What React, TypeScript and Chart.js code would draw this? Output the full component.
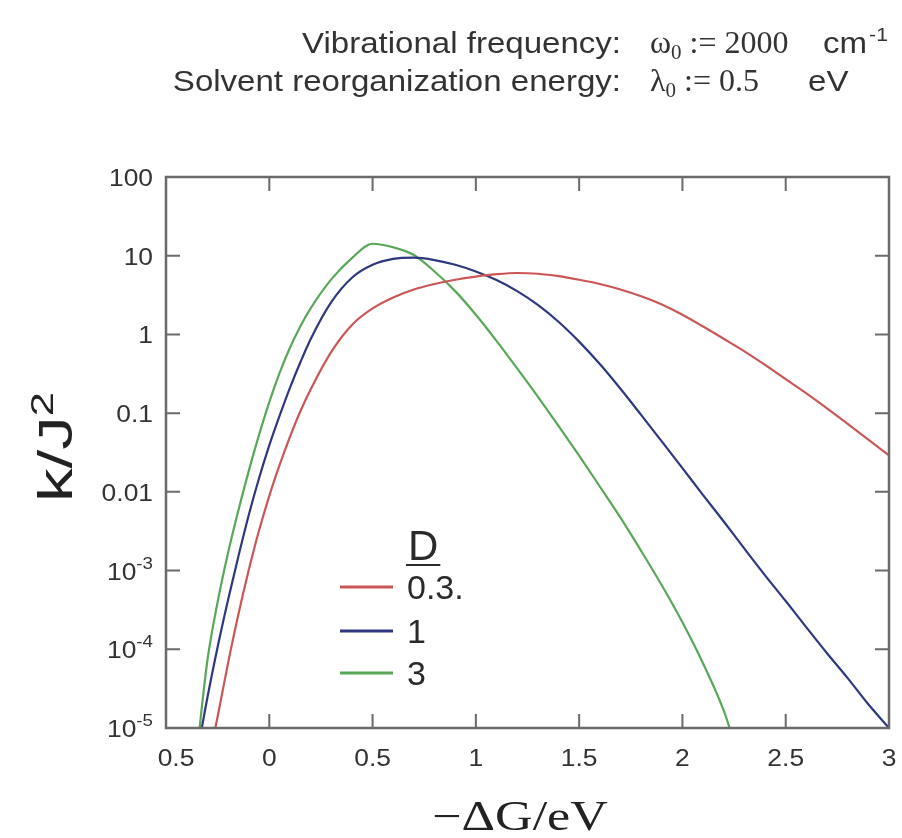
import React, { useEffect, useRef } from "react";
import { Chart, registerables } from "chart.js";

Chart.register(...registerables);

// ---- data ----
const xValues = [-0.35, -0.3, -0.25, -0.2, -0.15, -0.1, -0.05, 0, 0.05, 0.1, 0.15, 0.2, 0.3, 0.4, 0.5, 0.6, 0.7, 0.8, 0.9, 1.0, 1.1, 1.2, 1.3, 1.4, 1.5, 1.6, 1.7, 1.8, 1.9, 2.0, 2.1, 2.2, 2.3, 2.4, 2.5, 2.6, 2.7, 2.8, 2.9, 3.0];

const seriesD03 = [null, 3.2e-6, 1.4e-5, 6.6e-5, 2.75e-4, 1.0e-3, 3.2e-3, 8.9e-3, 0.022, 0.05, 0.105, 0.2, 0.6, 1.32, 2.14, 2.95, 3.72, 4.37, 4.95, 5.43, 5.82, 6.03, 5.9, 5.5, 4.95, 4.37, 3.72, 3.05, 2.4, 1.78, 1.26, 0.88, 0.61, 0.41, 0.27, 0.178, 0.115, 0.073, 0.046, 0.029];

const seriesD1 = [4.5e-6, 2.4e-5, 1.07e-4, 4.2e-4, 1.5e-3, 5.0e-3, 0.0148, 0.039, 0.093, 0.21, 0.44, 0.87, 2.57, 5.25, 7.67, 9.12, 9.44, 8.81, 7.67, 6.31, 4.9, 3.55, 2.37, 1.45, 0.81, 0.42, 0.204, 0.095, 0.0437, 0.02, 9.1e-3, 4.2e-3, 1.9e-3, 8.7e-4, 4.1e-4, 1.9e-4, 8.9e-5, 4.3e-5, 2.0e-5, 1.0e-5];

const seriesD3 = [5.0e-6, 7.1e-5, 4.0e-4, 1.66e-3, 5.75e-3, 0.0182, 0.0525, 0.138, 0.324, 0.676, 1.26, 2.14, 5.0, 9.33, 14.2, 12.8, 10.2, 6.31, 3.55, 1.78, 0.83, 0.37, 0.162, 0.069, 0.0288, 0.0117, 4.7e-3, 1.78e-3, 6.5e-4, 2.2e-4, 6.6e-5, 1.66e-5, 2.5e-6, null, null, null, null, null, null, null];

const seriesNames = ["0.3.", "1", "3"];
const seriesColors = ["rgb(204,86,86)", "rgb(46,56,126)", "rgb(88,168,88)"];

const xTickValues = [-0.5, 0, 0.5, 1, 1.5, 2, 2.5, 3];
const xTickLabels = ["0.5", "0", "0.5", "1", "1.5", "2", "2.5", "3"];
const yTickValues = [100, 10, 1, 0.1, 0.01, 1e-3, 1e-4, 1e-5];
const yTickBase = ["100", "10", "1", "0.1", "0.01", "10", "10", "10"];
const yTickExp = ["", "", "", "", "", "-3", "-4", "-5"];

const headerLabels = ["Vibrational frequency:", "Solvent reorganization energy:"];
const headerSymbols = ["ω", "λ"];
const headerValues = [" := 2000", " := 0.5"];
const headerUnits = ["cm", "eV"];
const headerUnitExp = ["-1", ""];

const xTitle = "−ΔG/eV";
const yTitle = "k/J";
const yTitleExp = "2";
const legendTitle = "D";

const SANS = '"Liberation Sans", Arial, Helvetica, sans-serif';
const SERIF = '"Liberation Serif", "Times New Roman", serif';

function drawText(ctx: CanvasRenderingContext2D, s: string, x: number, y: number, font: string, sx = 1) {
  ctx.save();
  ctx.font = font;
  ctx.textAlign = "left";
  ctx.textBaseline = "alphabetic";
  ctx.translate(x, y);
  ctx.scale(sx, 1);
  ctx.fillText(s, 0, 0);
  ctx.restore();
}
function textW(ctx: CanvasRenderingContext2D, s: string, font: string, sx = 1) {
  ctx.save();
  ctx.font = font;
  const w = ctx.measureText(s).width * sx;
  ctx.restore();
  return w;
}

const decorPlugin = {
  id: "decor",
  afterDraw(chart: any) {
    const ctx: CanvasRenderingContext2D = chart.ctx;
    const { left, right, top, bottom } = chart.chartArea;
    const xs = chart.scales.x;
    const ys = chart.scales.y;
    ctx.save();
    // frame
    ctx.strokeStyle = "#6a6a6a";
    ctx.lineWidth = 2.5;
    ctx.strokeRect(left, top, right - left, bottom - top);
    // inward ticks
    ctx.lineWidth = 2;
    const tl = 14;
    xTickValues.forEach((v) => {
      const px = xs.getPixelForValue(v);
      ctx.beginPath();
      ctx.moveTo(px, bottom);
      ctx.lineTo(px, bottom - tl);
      ctx.moveTo(px, top);
      ctx.lineTo(px, top + tl);
      ctx.stroke();
    });
    yTickValues.forEach((v) => {
      const py = ys.getPixelForValue(v);
      ctx.beginPath();
      ctx.moveTo(left, py);
      ctx.lineTo(left + tl, py);
      ctx.moveTo(right, py);
      ctx.lineTo(right - tl, py);
      ctx.stroke();
    });

    ctx.fillStyle = "#333";
    const tickFont = `24px ${SANS}`;
    const supFont = `17px ${SANS}`;
    const sx = 1.1;
    // x tick labels
    xTickValues.forEach((v, i) => {
      let px = xs.getPixelForValue(v);
      const s = xTickLabels[i];
      const w = textW(ctx, s, tickFont, sx);
      if (i === 0) px += 10;
      drawText(ctx, s, px - w / 2, bottom + 38, tickFont, sx);
    });
    // y tick labels
    const xr = left - 13;
    yTickValues.forEach((v, i) => {
      const py = ys.getPixelForValue(v);
      const base = yTickBase[i];
      const exp = yTickExp[i];
      const we = exp ? textW(ctx, exp, supFont, sx) : 0;
      const wb = textW(ctx, base, tickFont, sx);
      drawText(ctx, base, xr - we - wb, py + 9, tickFont, sx);
      if (exp) drawText(ctx, exp, xr - we, py - 2, supFont, sx);
    });

    // axis titles
    ctx.fillStyle = "#222";
    const xtFont = `42px ${SERIF}`;
    const xtsx = 1.24;
    const xtw = textW(ctx, xTitle, xtFont, xtsx);
    drawText(ctx, xTitle, 520 - xtw / 2, 830, xtFont, xtsx);

    const ytFont = `48px ${SANS}`;
    const ytSup = `31px ${SANS}`;
    const ysx = 1.4;
    const w1 = textW(ctx, yTitle, ytFont, ysx);
    const w2 = textW(ctx, yTitleExp, ytSup, ysx);
    ctx.save();
    ctx.translate(72, 447 + (w1 + w2) / 2);
    ctx.rotate(-Math.PI / 2);
    drawText(ctx, yTitle, 0, 0, ytFont, ysx);
    drawText(ctx, yTitleExp, w1, -19, ytSup, ysx);
    ctx.restore();

    // header
    ctx.fillStyle = "#333";
    const hFont = `29.5px ${SANS}`;
    const hsx = 1.12;
    const vFont = `32px ${SERIF}`;
    const subFont = `21px ${SERIF}`;
    const baselines = [53, 91];
    const unitX = [823, 808];
    headerLabels.forEach((lab, i) => {
      const b = baselines[i];
      const w = textW(ctx, lab, hFont, hsx);
      drawText(ctx, lab, 621 - w, b, hFont, hsx);
      let x0 = 650;
      drawText(ctx, headerSymbols[i], x0, b, vFont);
      x0 += textW(ctx, headerSymbols[i], vFont);
      drawText(ctx, "0", x0, b + 6, subFont);
      x0 += textW(ctx, "0", subFont);
      drawText(ctx, headerValues[i], x0, b, vFont);
      drawText(ctx, headerUnits[i], unitX[i], b, hFont, hsx);
      if (headerUnitExp[i]) {
        const uw = textW(ctx, headerUnits[i], hFont, hsx);
        drawText(ctx, headerUnitExp[i], unitX[i] + uw + 2, b - 12, `19px ${SANS}`, hsx);
      }
    });

    // legend
    ctx.fillStyle = "#2a2a2a";
    const dFont = `42px ${SANS}`;
    drawText(ctx, legendTitle, 408, 560, dFont);
    const dw = textW(ctx, legendTitle, dFont);
    ctx.strokeStyle = "#2a2a2a";
    ctx.lineWidth = 2;
    ctx.beginPath();
    ctx.moveTo(406, 565);
    ctx.lineTo(410 + dw, 565);
    ctx.stroke();
    const rows = [587, 631, 673];
    const lFont = `34px ${SANS}`;
    seriesNames.forEach((n, i) => {
      ctx.strokeStyle = seriesColors[i];
      ctx.lineWidth = 3;
      ctx.beginPath();
      ctx.moveTo(340, rows[i]);
      ctx.lineTo(393, rows[i]);
      ctx.stroke();
      drawText(ctx, n, 407, rows[i] + 12, lFont);
    });
    ctx.restore();
  },
};

export default function App() {
  const ref = useRef<HTMLCanvasElement>(null);
  useEffect(() => {
    if (!ref.current) return;
    const mk = (vals: (number | null)[]) => xValues.map((x, i) => ({ x, y: vals[i] }));
    const all = [seriesD03, seriesD1, seriesD3];
    const chart = new Chart(ref.current, {
      type: "line",
      data: {
        datasets: all.map((vals, i) => ({
          label: seriesNames[i],
          data: mk(vals) as any,
          borderColor: seriesColors[i],
          borderWidth: 2.2,
          pointRadius: 0,
          cubicInterpolationMode: "monotone" as const,
          spanGaps: false,
        })),
      },
      options: {
        animation: false,
        responsive: false,
        devicePixelRatio: 1,
        layout: { padding: { left: 166, top: 177, right: 13, bottom: 110 } },
        plugins: { legend: { display: false }, tooltip: { enabled: false } },
        scales: {
          x: { type: "linear", min: -0.5, max: 3, display: false },
          y: { type: "logarithmic", min: 1e-5, max: 100, display: false },
        },
      },
      plugins: [decorPlugin],
    });
    return () => chart.destroy();
  }, []);
  return (
    <div style={{ position: "fixed", left: 0, top: 0, width: 902, height: 838, background: "#fff" }}>
      <canvas ref={ref} width={902} height={838} style={{ display: "block" }} />
    </div>
  );
}
